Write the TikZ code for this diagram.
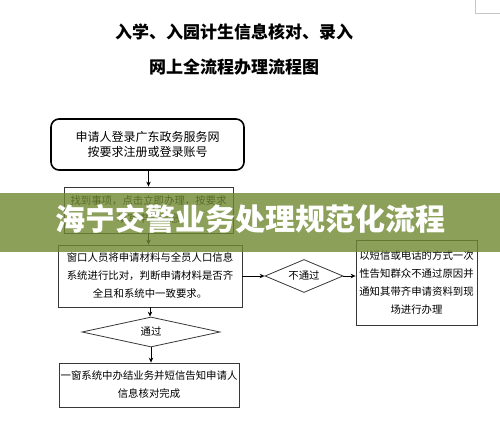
\documentclass[tikz,border=0pt]{standalone}
\usepackage{fontspec}
\usepackage{tikz}
\usetikzlibrary{shapes.geometric, arrows.meta, positioning, calc}
\newfontfamily\cjk{Noto Sans CJK SC}
\definecolor{verdeBanda}{RGB}{111, 136, 49}
\definecolor{grisLinea}{RGB}{55, 55, 55}

\begin{document}
\begin{tikzpicture}[x=1pt, y=-1pt,
        caja/.style={rectangle, draw=grisLinea, line width=0.8pt, align=center, inner sep=0pt, font=\cjk\fontsize{10.4}{18}\selectfont},
        cajaRedonda/.style={caja, draw=black, rounded corners=8pt, line width=1.6pt, font=\cjk\fontsize{12}{15.5}\selectfont},
        rombo/.style={diamond, draw=grisLinea, line width=0.8pt, inner sep=0pt, font=\cjk\fontsize{10.4}{12}\selectfont},
        titulo/.style={font=\cjk\bfseries\fontsize{17}{20}\selectfont},
        flecha/.style={-{Stealth[length=5pt, width=4.5pt]}, line width=0.8pt, black}]
        \useasboundingbox (0,0) rectangle (500,446);
        \draw[gray!45, line width=0.6pt] (475,0) -- (475,13) -- (500,13);
        % titulo
        \node[titulo] (titulo1) at (234,32) {入学、入园计生信息核对、录入};
        \node[titulo] (titulo2) at (234,67) {网上全流程办理流程图};
        % pasos
        \node[cajaRedonda, minimum width=193pt, minimum height=51pt] (registro) at (147.5,144.5) {申请人登录广东政务服务网\\按要求注册或登录账号};
        \node[caja, minimum width=169pt, minimum height=46pt] (buscar) at (148.5,210) {找到事项，点击立即办理，按要求\\填写申请信息};
        \node[caja, minimum width=184pt, minimum height=62pt] (cotejo) at (150,276) {窗口人员将申请材料与全员人口信息\\系统进行比对，判断申请材料是否齐\\全且和系统中一致要求。};
        \node[rombo, minimum width=78pt, minimum height=33pt, aspect=2.4] (nopasa) at (304,276) {不通过};
        \node[caja, minimum width=121pt, minimum height=85pt] (aviso) at (416.5,282.5) {以短信或电话的方式一次\\性告知群众不通过原因并\\通知其带齐申请资料到现\\场进行办理};
        \node[rombo, minimum width=138pt, minimum height=30pt, aspect=4] (pasa) at (151,332) {通过};
        \node[caja, minimum width=180pt, minimum height=44pt] (fin) at (149,385) {一窗系统中办结业务并短信告知申请人\\信息核对完成};
        % flechas
        \draw[flecha] (registro.south -| buscar.north) -- (buscar.north);
        \draw[flecha] (buscar.south) -- (buscar.south |- cotejo.north);
        \draw[flecha] (cotejo.south) -- (cotejo.south |- pasa.north);
        \draw[flecha] (pasa.south) -- (pasa.south |- fin.north);
        \draw[flecha] (cotejo.east) -- (nopasa.west);
        \draw[flecha] (nopasa.east) -- (nopasa.east -| aviso.west);
        % banda
        \fill[verdeBanda, opacity=0.8] (0,193) rectangle (500,252);
        \node[font=\cjk\bfseries\fontsize{30}{32}\selectfont, text=white] (banda) at (250,219) {海宁交警业务处理规范化流程};
    \end{tikzpicture}
\end{document}
